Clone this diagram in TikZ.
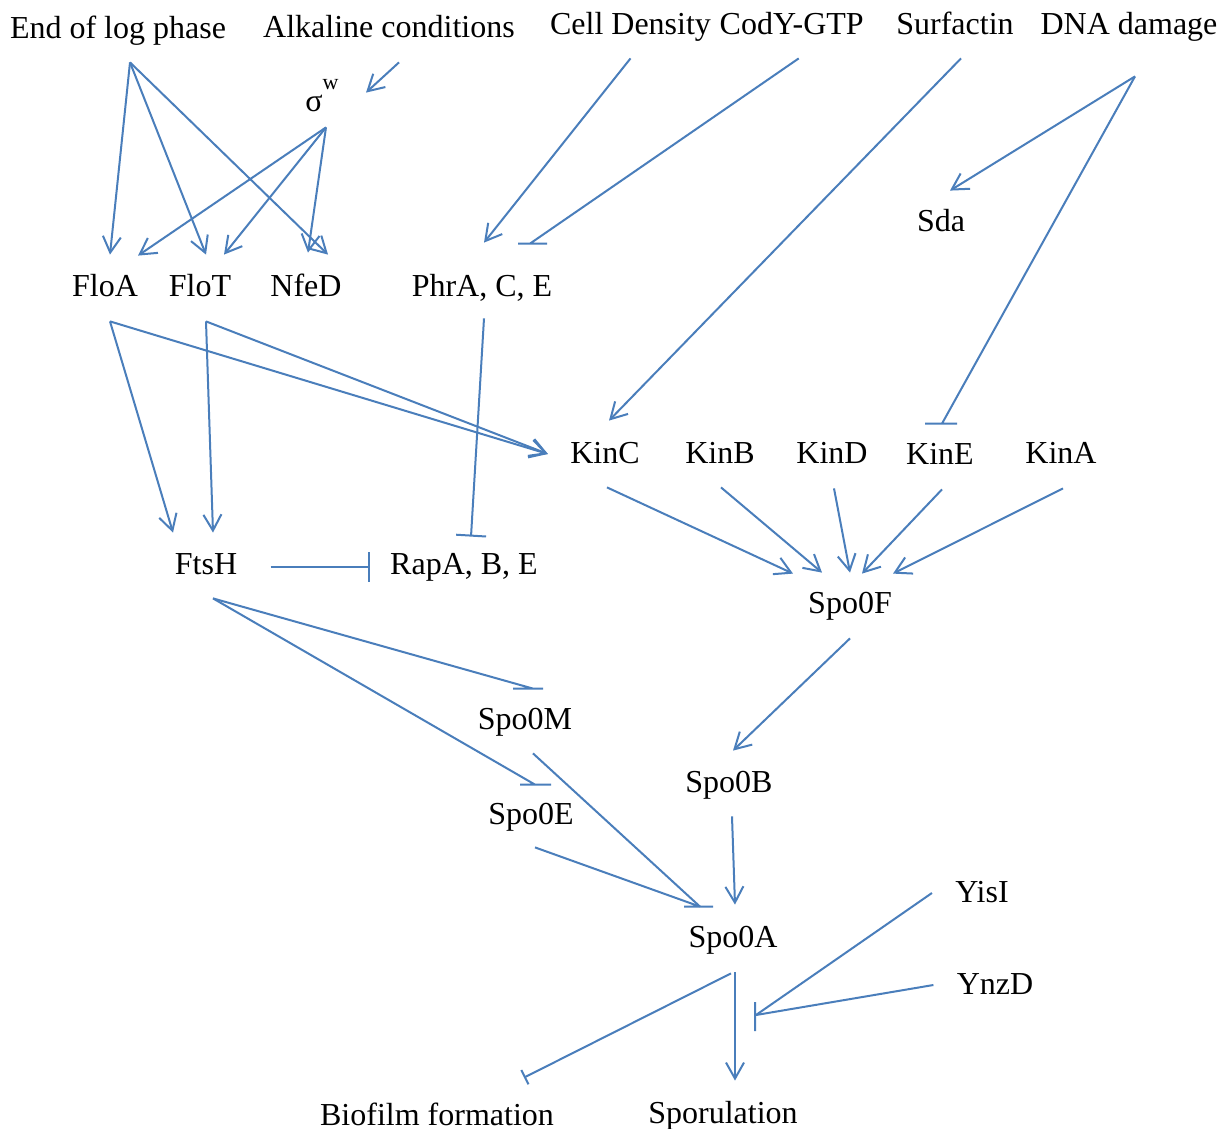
\documentclass[tikz,border=0pt]{standalone}
\usepackage{fontspec}
\setmainfont{Liberation Serif}
\usetikzlibrary{positioning, arrows.meta}
\definecolor{linkblue}{RGB}{74,126,187}

\begin{document}
\begin{tikzpicture}[
    x=0.5pt, y=-0.5pt, % one unit = one pixel of the sketch, y going down
    % --- STYLES ---
    name_node/.style={inner sep=0pt, text height=10.5pt, text depth=0pt, font=\fontsize{16}{19}\selectfont},
    act/.style={draw=linkblue, line width=1pt, -{Straight Barb[length=8pt, width=9pt]}},
    inh/.style={draw=linkblue, line width=1pt},
    inh_tip/.style={inh, -{Bar[width=15pt]}},
]
\useasboundingbox (0,0) rectangle (1232,1129);

% --- SIGNALS (top row) ---
\node (end_log) [name_node] at (118,28) {End of log phase};
\node (alkaline) [name_node] at (389,27) {Alkaline conditions};
\node (cell_density) [name_node] at (630.5,24) {Cell Density};
\node (cody_gtp) [name_node, right=4pt of cell_density] {CodY-GTP};
\node (surfactin) [name_node] at (955,24) {Surfactin};
\node (dna_damage) [name_node] at (1129,24) {DNA damage};

% --- ROW 2 ---
\node (sigma_w) [name_node] at (322,101.5) {σ\raisebox{11pt}{\fontsize{11}{13}\selectfont w}};
\node (sda) [name_node] at (941,221) {Sda};
\node (flo_a) [name_node] at (105,286) {FloA};
\node (flo_t) [name_node] at (200,286) {FloT};
\node (nfe_d) [name_node] at (306,286) {NfeD};
\node (phr) [name_node] at (482,286) {PhrA, C, E};

% --- KINASES ---
\node (kin_c) [name_node] at (605,453) {KinC};
\node (kin_b) [name_node] at (720,453) {KinB};
\node (kin_d) [name_node] at (832,453) {KinD};
\node (kin_e) [name_node] at (940,454) {KinE};
\node (kin_a) [name_node] at (1061,453) {KinA};

% --- PHOSPHORELAY ---
\node (fts_h) [name_node] at (206,564) {FtsH};
\node (rap) [name_node] at (464,564) {RapA, B, E};
\node (spo0f) [name_node] at (850,603) {Spo0F};
\node (spo0m) [name_node] at (525,719) {Spo0M};
\node (spo0b) [name_node] at (729,782) {Spo0B};
\node (spo0e) [name_node] at (531,814) {Spo0E};
\node (spo0a) [name_node] at (733,937) {Spo0A};
\node (yis_i) [name_node] at (982,892) {YisI};
\node (ynz_d) [name_node] at (995,984) {YnzD};
\node (biofilm) [name_node] at (437,1115) {Biofilm formation};
\node (sporulation) [name_node] at (723,1113) {Sporulation};
\coordinate (spo_block) at (756,1015);

% Edges - top signals
\draw [act] ([shift={(12,23.5)}]end_log.south) -- ([shift={(5,-20.5)}]flo_a.north);
\draw [act] ([shift={(12,23.5)}]end_log.south) -- ([shift={(6,-20.5)}]flo_t.north);
\draw [act] ([shift={(12,23.5)}]end_log.south) -- ([shift={(22,-20.5)}]nfe_d.north);
\draw [act] ([shift={(10,24.5)}]alkaline.south) -- ([shift={(44,2)}]sigma_w.north);
\draw [act] ([shift={(4,15)}]sigma_w.south) -- ([shift={(33,-19.5)}]flo_a.north);
\draw [act] ([shift={(4,15)}]sigma_w.south) -- ([shift={(24,-20.5)}]flo_t.north);
\draw [act] ([shift={(4,15)}]sigma_w.south) -- ([shift={(2,-22.5)}]nfe_d.north);
\draw [act] ([shift={(0,23.5)}]cell_density.south) -- ([shift={(2,-32.5)}]phr.north);
\draw [inh] ([shift={(7,23.5)}]cody_gtp.south) -- ([shift={(48,-31.5)}]phr.north) ++(-12,0) -- ++(29,0);
\draw [act] ([shift={(6,23.5)}]surfactin.south) -- ([shift={(4,-21.5)}]kin_c.north);
\draw [act] ([shift={(6,41.5)}]dna_damage.south) -- ([shift={(9,-19.5)}]sda.north);
\draw [inh] ([shift={(6,41.5)}]dna_damage.south) -- ([shift={(2,-19.5)}]kin_e.north) ++(-17,0) -- ++(32,0);

% Edges - flotillins
\draw [act] ([shift={(5,24.5)}]flo_a.south) -- ([shift={(-33,-20.5)}]fts_h.north);
\draw [act] ([shift={(5,24.5)}]flo_a.south) -- ([shift={(-22,1)}]kin_c.west);
\draw [act] ([shift={(6,24.5)}]flo_t.south) -- ([shift={(7,-20.5)}]fts_h.north);
\draw [act] ([shift={(6,24.5)}]flo_t.south) -- ([shift={(-22,1)}]kin_c.west);
\draw [inh_tip] ([shift={(2,21.5)}]phr.south) -- ([shift={(7,-16.5)}]rap.north);
\draw [inh_tip] ([shift={(33,3)}]fts_h.east) -- ([shift={(-20,3)}]rap.west);
\draw [inh] ([shift={(7,23.5)}]fts_h.south) -- ([shift={(8,-19.5)}]spo0m.north) ++(-20,0) -- ++(30,0);
\draw [inh] ([shift={(7,23.5)}]fts_h.south) -- ([shift={(4,-18.5)}]spo0e.north) ++(-15,0) -- ++(31,0);

% Edges - kinases to Spo0F
\draw [act] ([shift={(2,23.5)}]kin_c.south) -- ([shift={(-57,-18.5)}]spo0f.north);
\draw [act] ([shift={(1,23.5)}]kin_b.south) -- ([shift={(-28,-19.5)}]spo0f.north);
\draw [act] ([shift={(2,24.5)}]kin_d.south) -- ([shift={(0,-19.5)}]spo0f.north);
\draw [act] ([shift={(2,24.5)}]kin_e.south) -- ([shift={(12,-18.5)}]spo0f.north);
\draw [act] ([shift={(2,24.5)}]kin_a.south) -- ([shift={(43,-18.5)}]spo0f.north);

% Edges - relay to Spo0A and outputs
\draw [act] ([shift={(0,24.5)}]spo0f.south) -- ([shift={(4,-20.5)}]spo0b.north);
\draw [inh] ([shift={(8,23.5)}]spo0m.south) -- ([shift={(-33,-19.5)}]spo0a.north);
\draw [inh] ([shift={(4,22.5)}]spo0e.south) -- ([shift={(-33,-19.5)}]spo0a.north) ++(-16,0) -- ++(29,0);
\draw [act] ([shift={(3,23.5)}]spo0b.south) -- ([shift={(2,-21.5)}]spo0a.north);
\draw [inh, -{Bar[width=8pt]}] ([shift={(-2,25.5)}]spo0a.south) -- ([shift={(87,-26.5)}]biofilm.north);
\draw [act] ([shift={(2,24.5)}]spo0a.south) -- ([shift={(12,-21.5)}]sporulation.north);
\draw [inh] ([shift={(-23,1)}]yis_i.west) -- (spo_block);
\draw [inh] ([shift={(-23,1)}]ynz_d.west) -- (spo_block) ++(-1,-13) -- ++(0,29);

\end{tikzpicture}
\end{document}
